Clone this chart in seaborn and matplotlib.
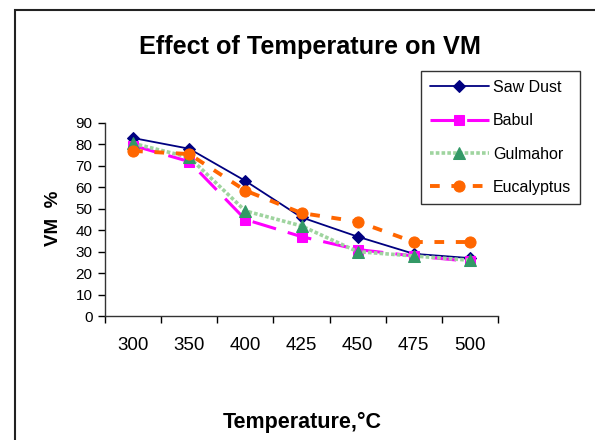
import matplotlib
matplotlib.use("Agg")
import matplotlib.pyplot as plt
import seaborn as sns
from matplotlib.patches import Rectangle
from matplotlib.ticker import FixedLocator

# Data
temps = ['300', '350', '400', '425', '450', '475', '500']
saw_dust = [83, 78, 63, 46, 37, 29, 27]
babul = [79.5, 72, 45, 37, 31, 28, 25.5]
gulmahor = [80.5, 74, 49, 42, 30, 28, 26]
eucalyptus = [77, 75.5, 58.5, 48, 44, 34.5, 34.5]

sns.set_style('white')
plt.rcParams['font.family'] = ['Liberation Sans', 'DejaVu Sans']
plt.rcParams['text.color'] = 'black'
plt.rcParams['xtick.color'] = 'black'
plt.rcParams['ytick.color'] = 'black'

fig = plt.figure(figsize=(5.95, 4.4), dpi=100)
ax = fig.add_axes([105 / 595, 1 - 316 / 440, 393 / 595, 193 / 440])

series = [
    ('Saw Dust', saw_dust, dict(color='#000080', marker='D', ms=6, lw=1.3, linestyle='-')),
    ('Babul', babul, dict(color='#FF00FF', marker='s', ms=7, lw=2.2, linestyle=(0, (8, 4)))),
    ('Gulmahor', gulmahor, dict(color='#9fd49f', marker='^', ms=8, lw=2.6,
                                linestyle=(0, (1, 0.6)), markerfacecolor='#339966',
                                markeredgecolor='#339966')),
    ('Eucalyptus', eucalyptus, dict(color='#FF6600', marker='o', ms=8, lw=2.8,
                                    linestyle=(0, (2.5, 3)))),
]

for name, vals, style in series:
    mfc = style.pop('markerfacecolor', style['color'])
    mec = style.pop('markeredgecolor', style['color'])
    sns.lineplot(x=temps, y=vals, ax=ax, label=name, markerfacecolor=mfc,
                 markeredgecolor=mec, sort=False, **style)

ax.set_xlim(-0.5, len(temps) - 0.5)
ax.set_ylim(0, 90)
ax.set_yticks(range(0, 100, 10))
ax.xaxis.set_minor_locator(FixedLocator([i - 0.5 for i in range(len(temps) + 1)]))
ax.tick_params(axis='x', which='major', length=0, pad=15, labelsize=13.5, labelcolor='black')
ax.tick_params(axis='x', which='minor', length=5, width=1, direction='out', color='black', bottom=True)
ax.tick_params(axis='y', length=5, width=1, direction='out', color='black', left=True,
               pad=4, labelsize=11, labelcolor='black')
for side in ['top', 'right']:
    ax.spines[side].set_visible(False)
for side in ['left', 'bottom']:
    ax.spines[side].set_color('#333333')
    ax.spines[side].set_linewidth(1)
ax.set_xlabel('')
ax.set_ylabel('')

ax.get_legend().remove()
handles, labels = ax.get_legend_handles_labels()
leg = fig.legend(handles, labels, loc='upper left', bbox_to_anchor=(421 / 595, 1 - 71 / 440),
                 fontsize=11.5, frameon=True, fancybox=False, handlelength=3.7,
                 handletextpad=0.25, labelspacing=1.15, borderpad=0.55, borderaxespad=0,
                 labelcolor='black')
leg.get_frame().set_edgecolor('black')
leg.get_frame().set_linewidth(1)

fig.text(310 / 595, 1 - 47 / 440, 'Effect of Temperature on VM', ha='center', va='center',
         fontsize=18.2, fontweight='bold', color='black')
fig.text(302 / 595, 1 - 422 / 440, 'Temperature,°C', ha='center', va='center',
         fontsize=15.5, fontweight='bold', color='black')
fig.text(53 / 595, 1 - 218 / 440, 'VM  %', ha='center', va='center', rotation=90,
         fontsize=13.5, fontweight='bold', color='black')

# outer chart-area border (cropped at the right and bottom)
fig.patches.append(Rectangle((15 / 595, -0.1), 1.2, 1 - 10 / 440 + 0.1, transform=fig.transFigure,
                             fill=False, edgecolor='#222222', linewidth=1.5))

fig.savefig('out.png', dpi=100)
